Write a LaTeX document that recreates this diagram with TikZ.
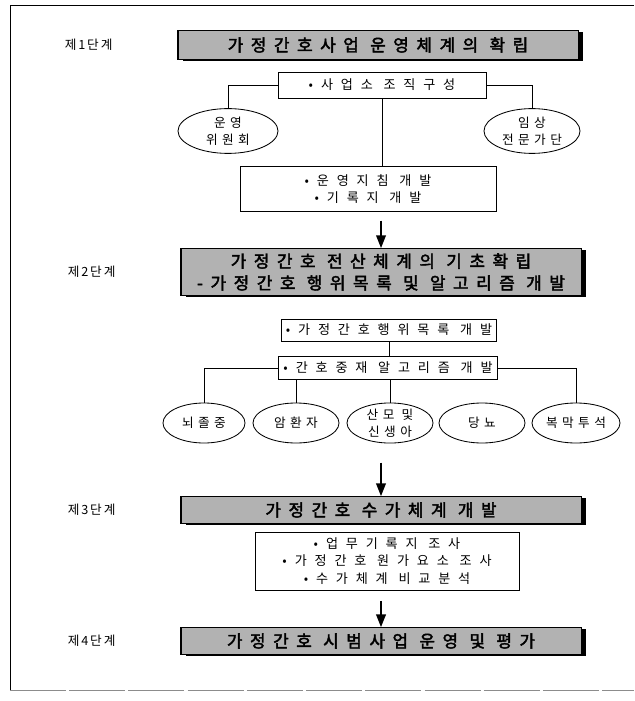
\documentclass[tikz,border=0pt]{standalone}
\usepackage{fontspec}
\setmainfont{Noto Sans CJK KR}
\newfontfamily\krbody[LetterSpace=60]{Noto Sans CJK KR}
\newfontfamily\krgroup[LetterSpace=35]{Noto Sans CJK KR}
\newfontfamily\krhead[LetterSpace=45, FakeBold=2.5]{Noto Sans CJK KR}
\newfontfamily\krtag[LetterSpace=15]{Noto Sans CJK KR}
\newcommand\bodyfont{\krbody\fontsize{9.3}{12.5}\selectfont}
\newcommand\groupfont{\krgroup\fontsize{9}{12}\selectfont}
\newcommand\headfont{\krhead\fontsize{12}{15.5}\selectfont}
\newcommand\tagfont{\krtag\fontsize{9}{12}\selectfont}
\usetikzlibrary{positioning, arrows.meta, shapes.geometric, shadows}

\begin{document}
\begin{tikzpicture}[x=0.025cm, y=-0.025cm, >={Triangle[length=3.2mm,width=2.4mm]}]
    % Styles
    \tikzstyle{phase} = [rectangle, draw, line width=0.8pt, fill=black!30,
    drop shadow={shadow xshift=0.12cm, shadow yshift=-0.04cm, opacity=1, fill=black},
    minimum width=10cm, font=\headfont, align=center]
    \tikzstyle{phasetag} = [font=\tagfont]
    \tikzstyle{task} = [rectangle, draw, line width=0.6pt, fill=white, font=\bodyfont, align=center]
    \tikzstyle{group} = [ellipse, draw, line width=0.6pt, font=\groupfont, align=center, inner sep=0pt]
    \tikzstyle{link} = [line width=0.6pt]
    \tikzstyle{flow} = [->, line width=1.3pt]

    \useasboundingbox (0,0) rectangle (634,701);

    % Frame
    \draw [line width=0.6pt] (634,5) -- (10,5) -- (10,690);
    \draw [black!45, line width=0.6pt, dash pattern=on 1.4cm off 0.08cm] (10,690) -- (634,690);

    % Stage 1
    \node [phase, minimum height=0.74cm] (phase1) at (378,45) {가정간호사업 운영체계의 확립};
    \node [phasetag, left=1.5cm of phase1] (tag1) {제1단계};
    \node [task, minimum width=5.2cm, minimum height=0.65cm] (org) at (382,85) {•사업소 조직구성};
    \node [group, minimum width=2.5cm, minimum height=1.12cm] (board) at (228,131) {운영\\위원회};
    \node [group, minimum width=2.4cm, minimum height=1.12cm] (experts) at (532,131) {임상\\전문가단};
    \node [task, minimum width=6.4cm, minimum height=1.12cm] (guide) at (368,189) {•운영지침 개발\\•기록지 개발};

    % Stage 2
    \node [phase, minimum height=1.12cm] (phase2) at (381,272) {가정간호 전산체계의 기초확립\\-가정간호 행위목록 및 알고리즘 개발};
    \node [phasetag, left=1.5cm of phase2] (tag2) {제2단계};
    \node [task, minimum width=5.2cm, minimum height=0.55cm] (actlist) at (389,330) {•가정간호행위목록 개발};
    \node [task, minimum width=5.2cm, minimum height=0.58cm] (algo) at (388,368) {•간호중재 알고리즘 개발};
    \node [group, minimum width=2.05cm, minimum height=1cm] (stroke) at (204,423) {뇌졸중};
    \node [group, minimum width=2.15cm, minimum height=1cm] (cancer) at (296,423) {암환자};
    \node [group, minimum width=2.15cm, minimum height=1cm] (mother) at (390,423) {산모 및\\신생아};
    \node [group, minimum width=2.15cm, minimum height=1cm] (diabetes) at (482,423) {당뇨};
    \node [group, minimum width=2.2cm, minimum height=1cm] (dialysis) at (576,423) {복막투석};

    % Stage 3
    \node [phase, minimum height=0.66cm] (phase3) at (381,510) {가정간호 수가체계 개발};
    \node [phasetag, left=1.5cm of phase3] (tag3) {제3단계};
    \node [task, minimum width=6.6cm, minimum height=1.45cm] (survey) at (387,561) {•업무기록지 조사\\•가정간호 원가요소 조사\\•수가체계 비교분석};

    % Stage 4
    \node [phase, minimum height=0.66cm] (phase4) at (381,641) {가정간호 시범사업 운영 및 평가};
    \node [phasetag, left=1.5cm of phase4] (tag4) {제4단계};

    % Lines
    \draw [link] (org.west) -| (board.north);
    \draw [link] (org.east) -| (experts.north);
    \draw [link] (org.south) -- (org.south |- guide.north);
    \draw [link] (actlist.south) -- (actlist.south |- algo.north);
    \draw [link] (algo.west) -| (stroke.north);
    \draw [link] (algo.east) -| (dialysis.north);
    \draw [link] (algo.south -| cancer.north) -- (cancer.north);
    \draw [link] (algo.south -| mother.north) -- (mother.north);

    % Arrows
    \draw [flow, shorten <=0.22cm] (guide.south -| phase2.north) -- (phase2.north);
    \draw [flow, shorten <=0.48cm] (mother.south -| phase3.north) -- (phase3.north);
    \draw [flow, shorten <=0.26cm] (survey.south -| phase4.north) -- (phase4.north);
\end{tikzpicture}
\end{document}
